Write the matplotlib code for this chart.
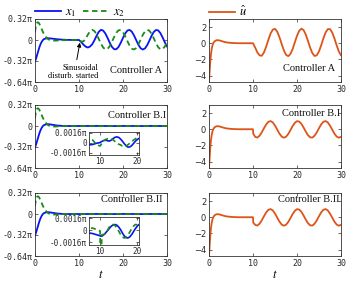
import numpy as np
import matplotlib
matplotlib.use('Agg')
import matplotlib.pyplot as plt

plt.rcParams['mathtext.fontset'] = 'stix'

BLUE = '#0a14f0'
GREEN = '#158c15'
ORANGE = '#dd5418'
TXT = '#2a2a2a'

# ---------------- time grids ----------------
t_pre = [0, 0.1, 0.2, 0.3, 0.45, 0.6, 0.8, 1.0, 1.25, 1.5, 1.75, 2, 2.5, 3, 3.5,
         4, 5, 6, 7, 8, 9, 10]
t_post = [10.5, 11, 11.5, 12, 12.5, 13, 13.5, 14, 14.5, 15,
          15.5, 16, 16.5, 17, 17.5, 18, 18.5, 19, 19.5, 20,
          20.5, 21, 21.5, 22, 22.5, 23, 23.5, 24, 24.5, 25,
          25.5, 26, 26.5, 27, 27.5, 28, 28.5, 29, 29.5, 30]
t_a = t_pre + t_post
t_b = t_pre + [10.05] + t_post

# ---------------- Controller A (states in units of pi) ----------------
x1_A = [-0.32, -0.31, -0.29, -0.27, -0.235, -0.20, -0.155, -0.11, -0.065, -0.03,
        -0.005, 0.012, 0.025, 0.027, 0.024, 0.02, 0.012, 0.006, 0.003, 0.001, 0.0, 0.0,
        -0.03, -0.07, -0.10, -0.115, -0.10, -0.065, -0.005, 0.065, 0.125, 0.155,
        0.143, 0.098, 0.031, -0.044, -0.106, -0.141, -0.140, -0.104, -0.041, 0.033,
        0.100, 0.144, 0.154, 0.127, 0.070, -0.002, -0.073, -0.125, -0.145, -0.128,
        -0.079, -0.009, 0.065, 0.123, 0.153, 0.146, 0.105, 0.039, -0.035, -0.099]
x2_A = [0.12, 0.17, 0.21, 0.24, 0.262, 0.27, 0.265, 0.245, 0.21, 0.17,
        0.13, 0.095, 0.045, 0.012, -0.005, -0.01, -0.008, -0.004, -0.002, -0.001, 0.0, 0.0,
        -0.025, -0.02, 0.015, 0.08, 0.133, 0.155, 0.137, 0.086, 0.015, -0.057,
        -0.115, -0.144, -0.135, -0.093, -0.026, 0.048, 0.111, 0.149, 0.151, 0.118,
        0.057, -0.017, -0.086, -0.132, -0.145, -0.121, -0.066, 0.006, 0.078, 0.132,
        0.155, 0.141, 0.094, 0.025, -0.049, -0.110, -0.142, -0.138, -0.100, -0.035]
u_A = [-4.8, -3.9, -3.0, -2.2, -1.35, -0.75, -0.25, 0.05, 0.22, 0.32,
       0.37, 0.38, 0.33, 0.24, 0.16, 0.10, 0.04, 0.01, 0.0, 0.0, 0.0, 0.0,
       -0.55, -1.15, -1.5, -1.55, -1.13, -0.41, 0.44, 1.21, 1.69, 1.78,
       1.44, 0.77, -0.07, -0.87, -1.43, -1.60, -1.34, -0.73, 0.10, 0.92,
       1.54, 1.80, 1.63, 1.07, 0.27, -0.57, -1.24, -1.58, -1.49, -1.01,
       -0.25, 0.61, 1.33, 1.75, 1.75, 1.33, 0.61, -0.24, -1.01, -1.49]

# ---------------- Controller B.I ----------------
x1_BI = [-0.32, -0.31, -0.29, -0.27, -0.235, -0.20, -0.155, -0.11, -0.065, -0.03,
         -0.005, 0.012, 0.025, 0.027, 0.024, 0.018, 0.008, 0.002, -0.00036, -0.0003, -0.0001, 0.0,
         0.00005,
         0.0002, 0.00035, 0.0004, 0.0003, 0.00025, 0.0004, 0.00065, 0.00085, 0.00093, 0.00085,
         0.0006, 0.00025, -0.00015, -0.0005, -0.00072, -0.0007, -0.0005, -0.00015, 0.0002, 0.0005,
         0.00067, 0.00075, 0.0006, 0.0003, -0.0001, -0.0005, -0.00075, -0.0008, -0.0006, -0.00025,
         0.00015, 0.0005, 0.00075, 0.0008, 0.0006, 0.00025, -0.00015, -0.0005, -0.00075, -0.0007]
x2_BI = [0.12, 0.17, 0.21, 0.24, 0.262, 0.27, 0.265, 0.245, 0.21, 0.17,
         0.13, 0.095, 0.045, 0.012, -0.005, -0.01, -0.006, -0.002, 0.00057, 0.00041, -0.0003, -0.00055,
         -0.0005,
         -0.0001, 0.0003, 0.00052, 0.00062, 0.00067, 0.00062, 0.00045, 0.0002, -0.00005, -0.00025,
         -0.00036, -0.00055, -0.00062, -0.00055, -0.00035, -0.0001, 0.00015, 0.0004, 0.0006, 0.00077,
         0.0007, 0.0005, 0.0002, -0.00015, -0.0005, -0.0007, -0.00065, -0.0004, -0.00005, 0.0003,
         0.0006, 0.00075, 0.00065, 0.00035, -0.00005, -0.00045, -0.0007, -0.0007, -0.00045, -0.0001]
u_BI = [-4.8, -3.9, -3.0, -2.2, -1.35, -0.75, -0.25, 0.05, 0.22, 0.32,
        0.37, 0.38, 0.33, 0.24, 0.16, 0.10, 0.04, 0.01, 0.0, 0.0, 0.0, 0.0,
        -0.55,
        -0.95, -1.03, -0.80, -0.38, 0.13, 0.60, 0.92, 1.01, 0.84, 0.45,
        -0.04, -0.54, -0.90, -1.05, -0.94, -0.60, -0.12, 0.38, 0.79, 1.00,
        0.95, 0.67, 0.21, -0.30, -0.74, -1.01, -1.03, -0.80, -0.38, 0.13,
        0.60, 0.92, 1.01, 0.84, 0.45, -0.04, -0.54, -0.90, -1.05, -0.94]

# ---------------- Controller B.II ----------------
x1_BII = [-0.32, -0.31, -0.29, -0.27, -0.235, -0.20, -0.155, -0.11, -0.065, -0.03,
          -0.005, 0.012, 0.025, 0.027, 0.024, 0.018, 0.008, 0.002, -0.00037, -0.00045, -0.0006, -0.00075,
          -0.00078,
          -0.0008, -0.0006, -0.00035, -0.00005, 0.00025, 0.00055, 0.00072, 0.00078, 0.0007, 0.00045,
          0.0001, -0.00035, -0.00075, -0.001, -0.00105, -0.0009, -0.0006, -0.0002, 0.0002, 0.00055,
          0.00078, 0.00085, 0.0007, 0.00035, -0.0001, -0.00055, -0.0009, -0.00105, -0.00095, -0.00065,
          -0.00025, 0.0002, 0.0006, 0.00082, 0.0008, 0.00055, 0.00015, -0.0003, -0.0007, -0.001]
x2_BII = [0.12, 0.17, 0.21, 0.24, 0.262, 0.27, 0.265, 0.245, 0.21, 0.17,
          0.13, 0.095, 0.045, 0.012, -0.005, -0.01, -0.006, -0.002, 0.00025, 0.0003, 0.0001, -0.0001,
          -0.006,
          -0.0006, -0.0006, -0.0004, 0.0, 0.00045, 0.0007, 0.00078, 0.00065, 0.00035, -0.0001,
          -0.00055, -0.0009, -0.00105, -0.00095, -0.00065, -0.00025, 0.0002, 0.00055, 0.00078, 0.00075,
          0.00055, 0.0002, -0.00025, -0.0007, -0.001, -0.00105, -0.00085, -0.00045, 0.0, 0.00045,
          0.00075, 0.00082, 0.00065, 0.0003, -0.00015, -0.0006, -0.00095, -0.00105, -0.00085, -0.00045]
u_BII = [-4.8, -3.9, -3.0, -2.2, -1.35, -0.75, -0.25, 0.05, 0.22, 0.32,
         0.37, 0.38, 0.33, 0.24, 0.16, 0.10, 0.04, 0.01, 0.0, 0.0, 0.0, 0.0,
         -0.65,
         -0.95, -1.03, -0.80, -0.38, 0.13, 0.60, 0.92, 1.01, 0.84, 0.45,
         -0.04, -0.54, -0.90, -1.05, -0.94, -0.60, -0.12, 0.38, 0.79, 1.00,
         0.95, 0.67, 0.21, -0.30, -0.74, -1.01, -1.03, -0.80, -0.38, 0.13,
         0.60, 0.92, 1.01, 0.84, 0.45, -0.04, -0.54, -0.90, -1.05, -0.94]

names = ['Controller A', 'Controller B.I', 'Controller B.II']
x_ticks = [0, 10, 20, 30]
pi_ticks = [-0.64, -0.32, 0, 0.32]
pi_labels = ['-0.64π', '-0.32π', '0', '0.32π']
u_ticks = [-4, -2, 0, 2]
inset_xticks = [10, 20]
inset_yticks = [-0.0016, 0, 0.0016]
inset_ylabels = ['-0.0016π', '0', '0.0016π']

W, H = 361, 283
fig = plt.figure(figsize=(W / 100, H / 100), dpi=100)


def px_axes(x0, y0, x1, y1):
    return fig.add_axes([x0 / W, 1 - y1 / H, (x1 - x0) / W, (y1 - y0) / H])


def style(ax, mono_y=True):
    ax.tick_params(direction='in', top=True, right=True, length=2.2, width=0.5,
                   labelsize=6, colors=TXT, pad=2)
    for s in ax.spines.values():
        s.set_linewidth(0.6)
        s.set_color('#333333')
    for lab in ax.get_xticklabels():
        lab.set_fontfamily('DejaVu Sans Mono')
    if mono_y:
        for lab in ax.get_yticklabels():
            lab.set_fontfamily('DejaVu Sans Mono')


rows = [(19, 82), (105, 168), (193, 256)]
data_left = [(t_a, x1_A, x2_A), (t_b, x1_BI, x2_BI), (t_b, x1_BII, x2_BII)]
data_right = [(t_a, u_A), (t_b, u_BI), (t_b, u_BII)]
lab_pos_left = [(0.965, 0.19), (0.99, 0.84), (0.965, 0.89)]
lab_pos_right = [(0.955, 0.22), (0.99, 0.86), (0.99, 0.90)]

left_axes, right_axes = [], []
for i, (top, bot) in enumerate(rows):
    axl = px_axes(35, top, 167, bot)
    t, x1, x2 = data_left[i]
    axl.plot(t, x1, color=BLUE, lw=1.3, label='$x_1$')
    axl.plot(t, x2, color=GREEN, lw=1.3, ls=(0, (3, 2)), label='$x_2$')
    axl.set_xlim(0, 30)
    axl.set_ylim(-0.64, 0.32)
    axl.set_xticks(x_ticks)
    axl.set_yticks(pi_ticks)
    axl.set_yticklabels(pi_labels)
    style(axl)
    axl.text(lab_pos_left[i][0], lab_pos_left[i][1], names[i], transform=axl.transAxes,
             ha='right', va='center', fontsize=7.5, family='Liberation Serif', color='#111111')
    left_axes.append(axl)

    axr = px_axes(209, top, 341, bot)
    t, u = data_right[i]
    axr.plot(t, u, color=ORANGE, lw=1.3, label=r'$\hat{u}$')
    axr.set_xlim(0, 30)
    axr.set_ylim(-4.8, 3)
    axr.set_xticks(x_ticks)
    axr.set_yticks(u_ticks)
    style(axr, mono_y=False)
    axr.text(lab_pos_right[i][0], lab_pos_right[i][1], names[i], transform=axr.transAxes,
             ha='right', va='center', fontsize=7.5, family='Liberation Serif', color='#111111')
    right_axes.append(axr)

for ax in (left_axes[2], right_axes[2]):
    ax.set_xlabel('$t$', fontsize=9, labelpad=0)

left_axes[0].legend(loc='center left', bbox_to_anchor=(0.0, 1.11), ncol=2, frameon=False,
                    fontsize=9, handlelength=2.1, handletextpad=0.3, columnspacing=0.5,
                    borderpad=0, borderaxespad=0)
right_axes[0].legend(loc='center left', bbox_to_anchor=(0.0, 1.11), frameon=False,
                     fontsize=9, handlelength=2.1, handletextpad=0.3,
                     borderpad=0, borderaxespad=0)

axA = left_axes[0]
axA.text(14.5, -0.49, 'Sinusoidal\ndisturb. started', ha='right', va='center',
         multialignment='right', fontsize=6, family='Liberation Serif', linespacing=1.0)
axA.annotate('', xy=(10.2, -0.04), xytext=(9.5, -0.30),
             arrowprops=dict(arrowstyle='-|>', color='black', lw=0.7,
                             mutation_scale=6, shrinkA=0, shrinkB=0))

# insets
insets = [((89, 131.5, 139, 155), t_b, x1_BI, x2_BI),
          ((89, 217, 139, 245), t_b, x1_BII, x2_BII)]
for (x0, y0, x1p, y1p), t, x1, x2 in insets:
    ax = px_axes(x0, y0, x1p, y1p)
    ax.plot(t, x1, color=BLUE, lw=1.2)
    ax.plot(t, x2, color=GREEN, lw=1.2, ls=(0, (3, 2)))
    ax.set_xlim(7, 20.5)
    ax.set_ylim(-0.002, 0.0018)
    ax.set_xticks(inset_xticks)
    ax.set_yticks(inset_yticks)
    ax.set_yticklabels(inset_ylabels)
    style(ax)
    ax.tick_params(labelsize=5.5, pad=1.5)

fig.savefig('out.png', dpi=100)
